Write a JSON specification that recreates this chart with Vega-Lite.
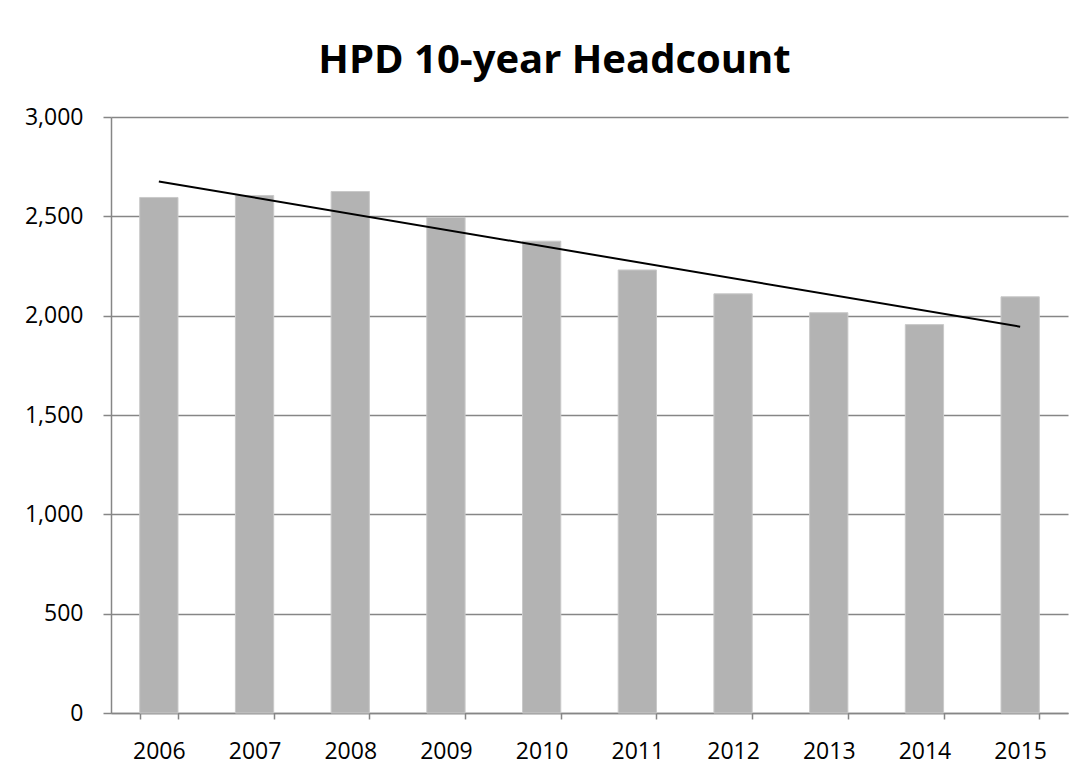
{
  "$schema": "https://vega.github.io/schema/vega-lite/v6.json",
  "width": 957,
  "height": 596,
  "autosize": {"type": "none"},
  "padding": {"left": 111, "top": 117, "right": 18, "bottom": 64},
  "background": "white",
  "title": {
    "text": "HPD 10-year Headcount",
    "font": "Open Sans",
    "fontSize": 40,
    "fontWeight": "bold",
    "color": "black",
    "anchor": "middle",
    "frame": "group",
    "dx": -35,
    "offset": 25
  },
  "data": {
    "values": [
      {"year": 2006, "count": 2595},
      {"year": 2007, "count": 2605},
      {"year": 2008, "count": 2625},
      {"year": 2009, "count": 2495},
      {"year": 2010, "count": 2375},
      {"year": 2011, "count": 2230},
      {"year": 2012, "count": 2110},
      {"year": 2013, "count": 2015},
      {"year": 2014, "count": 1955},
      {"year": 2015, "count": 2095}
    ]
  },
  "encoding": {
    "x": {
      "field": "year",
      "type": "ordinal",
      "scale": {"paddingInner": 0.6, "paddingOuter": 0.3},
      "axis": {
        "title": null,
        "labelAngle": 0,
        "labelFont": "Open Sans",
        "labelFontSize": 23,
        "labelColor": "black",
        "labelPadding": 21,
        "tickBand": "extent",
        "tickSize": 6,
        "tickColor": "#868686",
        "tickWidth": 1.5,
        "domainColor": "#868686",
        "domainWidth": 1.5,
        "grid": false
      }
    },
    "y": {
      "field": "count",
      "type": "quantitative",
      "scale": {"domain": [0, 3000], "nice": false},
      "axis": {
        "title": null,
        "values": [0, 500, 1000, 1500, 2000, 2500, 3000],
        "format": ",.0f",
        "labelFont": "Open Sans",
        "labelFontSize": 23,
        "labelColor": "black",
        "labelPadding": 20,
        "tickSize": 8,
        "tickColor": "#868686",
        "tickWidth": 1.5,
        "domainColor": "#868686",
        "domainWidth": 1.5,
        "grid": true,
        "gridColor": "#868686",
        "gridWidth": 1.5
      }
    }
  },
  "layer": [
    {
      "mark": {"type": "bar", "color": "#b3b3b3", "stroke": "#c9c9c9", "strokeWidth": 1}
    },
    {
      "transform": [{"regression": "count", "on": "year"}],
      "mark": {"type": "line", "color": "black", "strokeWidth": 2}
    }
  ],
  "config": {
    "view": {"stroke": null}
  }
}
